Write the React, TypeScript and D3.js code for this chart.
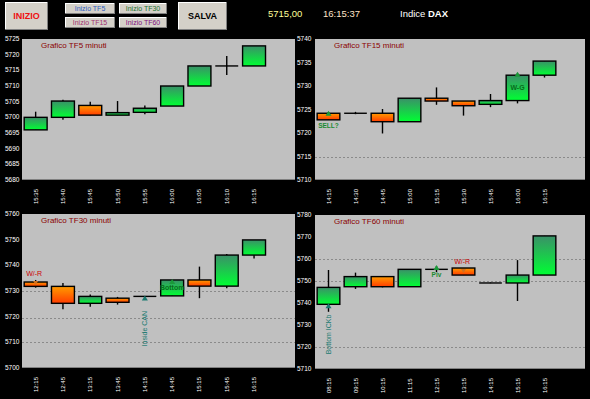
import React from "react";
import * as d3 from "d3";

// ---------- data ----------
const headerPrice = "5715,00";
const headerTime = "16:15:37";
const headerIndex = "Indice";
const headerIndexName = "DAX";

const tf5Times = ["15:35", "15:40", "15:45", "15:50", "15:55", "16:00", "16:05", "16:10", "16:15"];
const tf5Open = [5696.0, 5700.0, 5703.8, 5700.7, 5701.6, 5703.6, 5710.0, 5716.4, 5716.4];
const tf5High = [5701.8, 5705.6, 5705.0, 5705.2, 5703.8, 5710.0, 5716.4, 5719.6, 5722.8];
const tf5Low = [5696.0, 5699.2, 5700.7, 5700.7, 5701.0, 5703.6, 5710.0, 5713.5, 5716.4];
const tf5Close = [5700.0, 5705.2, 5700.7, 5701.5, 5702.9, 5710.0, 5716.4, 5716.4, 5722.8];
const tf5Ticks = [5725, 5720, 5715, 5710, 5705, 5700, 5695, 5690, 5685, 5680];
const tf5Levels: number[] = [];

const tf15Times = ["14:15", "14:30", "14:45", "15:00", "15:15", "15:30", "15:45", "16:00", "16:15"];
const tf15Open = [5724.2, 5724.2, 5724.2, 5722.4, 5727.4, 5726.8, 5726.1, 5726.9, 5732.3];
const tf15High = [5724.5, 5724.5, 5725.1, 5727.4, 5729.7, 5726.8, 5728.3, 5732.8, 5735.3];
const tf15Low = [5722.8, 5724.0, 5719.9, 5722.4, 5726.0, 5723.7, 5725.5, 5726.3, 5731.8];
const tf15Close = [5722.8, 5724.2, 5722.4, 5727.4, 5726.8, 5725.8, 5726.9, 5732.3, 5735.3];
const tf15Ticks = [5740, 5735, 5730, 5725, 5720, 5715, 5710];
const tf15Levels = [5715];

const tf30Times = ["12:15", "12:45", "13:15", "13:45", "14:15", "14:45", "15:15", "15:45", "16:15"];
const tf30Open = [5733.5, 5731.8, 5725.2, 5727.2, 5727.9, 5728.1, 5734.3, 5731.9, 5744.0];
const tf30High = [5734.3, 5733.1, 5728.6, 5727.7, 5728.0, 5734.3, 5739.5, 5744.4, 5749.9];
const tf30Low = [5731.3, 5722.9, 5723.9, 5724.7, 5727.8, 5728.1, 5727.2, 5731.1, 5742.7];
const tf30Close = [5731.8, 5725.2, 5727.9, 5725.6, 5727.9, 5734.3, 5731.9, 5744.0, 5749.9];
const tf30Ticks = [5760, 5750, 5740, 5730, 5720, 5710, 5700];
const tf30Levels = [5730, 5719.5, 5710];

const tf60Times = ["08:15", "09:15", "10:15", "11:15", "12:15", "13:15", "14:15", "15:15", "16:15"];
const tf60Open = [5739.4, 5747.4, 5752.0, 5747.4, 5755.3, 5755.9, 5749.1, 5749.1, 5752.7];
const tf60High = [5755.0, 5753.8, 5752.0, 5755.3, 5756.8, 5755.9, 5749.3, 5759.5, 5770.5];
const tf60Low = [5736.0, 5746.4, 5747.1, 5747.4, 5754.1, 5752.7, 5749.0, 5740.9, 5752.7];
const tf60Close = [5747.1, 5752.0, 5747.4, 5755.3, 5755.3, 5752.7, 5749.1, 5752.7, 5770.5];
const tf60Ticks = [5780, 5770, 5760, 5750, 5740, 5730, 5720, 5710];
const tf60Levels = [5760, 5750, 5720];

type Ann = { i: number; kind: "up" | "down"; color: string; text?: string; textColor?: string; pos: "top" | "bottom" | "inside" | "above" | "vertical" | "right" };
const tf5Notes: Ann[] = [];
const tf15Notes: Ann[] = [
  { i: 0, kind: "up", color: "#1a9a3a", text: "SELL?", textColor: "#1a8a30", pos: "bottom" },
  { i: 7, kind: "up", color: "#1a9a3a", text: "W-G", textColor: "#0a6a20", pos: "inside" },
];
const tf30Notes: Ann[] = [
  { i: 0, kind: "down", color: "#d07020", text: "W/-R", textColor: "#cc0000", pos: "above" },
  { i: 4, kind: "up", color: "#1a7a70", text: "Inside CAN", textColor: "#1a7a70", pos: "vertical" },
  { i: 5, kind: "up", color: "#1a9a3a", text: "Bottom", textColor: "#0a6a20", pos: "inside" },
];
const tf60Notes: Ann[] = [
  { i: 0, kind: "up", color: "#1a7a70", text: "Bottom ICKb", textColor: "#1a7a70", pos: "vertical" },
  { i: 4, kind: "up", color: "#1a9a3a", text: "Piv", textColor: "#1a8a30", pos: "bottom" },
  { i: 5, kind: "down", color: "#d07020", text: "W/-R", textColor: "#cc0000", pos: "above" },
];

// ---------- layout ----------
const panels = [
  { title: "Grafico TF5 minuti", times: tf5Times, o: tf5Open, h: tf5High, l: tf5Low, c: tf5Close, ticks: tf5Ticks, levels: tf5Levels, notes: tf5Notes, x0: 22, x1: 295, y0: 39, y1: 180, axisX: 5 },
  { title: "Grafico TF15 minuti", times: tf15Times, o: tf15Open, h: tf15High, l: tf15Low, c: tf15Close, ticks: tf15Ticks, levels: tf15Levels, notes: tf15Notes, x0: 315, x1: 585, y0: 39, y1: 180, axisX: 297 },
  { title: "Grafico TF30 minuti", times: tf30Times, o: tf30Open, h: tf30High, l: tf30Low, c: tf30Close, ticks: tf30Ticks, levels: tf30Levels, notes: tf30Notes, x0: 22, x1: 295, y0: 214, y1: 368, axisX: 5 },
  { title: "Grafico TF60 minuti", times: tf60Times, o: tf60Open, h: tf60High, l: tf60Low, c: tf60Close, ticks: tf60Ticks, levels: tf60Levels, notes: tf60Notes, x0: 315, x1: 585, y0: 215, y1: 369, axisX: 297 },
];

const FONT = "'Liberation Sans', Arial, sans-serif";

function Panel({ p, idx }: { p: (typeof panels)[number]; idx: number }) {
  const x = d3.scaleBand<number>().domain(d3.range(10)).range([p.x0, p.x1]).paddingInner(0.16).paddingOuter(0.08);
  const y = d3.scaleLinear().domain([p.ticks[p.ticks.length - 1], p.ticks[0]]).range([p.y1, p.y0]);
  const bw = x.bandwidth();
  return (
    <g>
      <rect x={p.x0} y={p.y0} width={p.x1 - p.x0} height={p.y1 - p.y0} fill="#c0c0c0" />
      <line x1={p.x0} x2={p.x1} y1={p.y1 - 0.5} y2={p.y1 - 0.5} stroke="#808080" strokeWidth={1} />
      {p.levels.map((v, k) => (
        <line key={k} x1={p.x0} x2={p.x1} y1={Math.round(y(v)) + 0.5} y2={Math.round(y(v)) + 0.5} stroke="#8a8a8a" strokeWidth={1} strokeDasharray="2,2" />
      ))}
      <text x={p.x0 + 19} y={p.y0 + 9} fontFamily={FONT} fontSize={8} fill="#8b0000">{p.title}</text>
      {p.ticks.map((t, k) => (
        <text key={k} x={p.axisX} y={y(t) + 2} fontFamily={FONT} fontSize={6.5} fill="#ffffff">{t}</text>
      ))}
      {p.times.map((t, i) => {
        const cx = (x(i) as number) + bw / 2;
        return (
          <text key={i} transform={`translate(${cx + 2},${p.y1 + 24}) rotate(-90)`} fontFamily={FONT} fontSize={6} fill="#ffffff">{t}</text>
        );
      })}
      {p.o.map((o, i) => {
        const c = p.c[i];
        const hi = p.h[i];
        const lo = p.l[i];
        const left = x(i) as number;
        const cx = left + bw / 2;
        const top = y(Math.max(o, c));
        const bot = y(Math.min(o, c));
        const up = c >= o;
        const bh = Math.max(bot - top, 0);
        return (
          <g key={i}>
            <line x1={cx} x2={cx} y1={y(hi)} y2={y(lo)} stroke="#000" strokeWidth={1.4} />
            {bh < 1.5 ? (
              <line x1={left} x2={left + bw} y1={top} y2={top} stroke="#000" strokeWidth={1.4} />
            ) : (
              <rect x={left} y={top} width={bw} height={bh} fill={`url(#${up ? "gUp" : "gDn"})`} stroke="#000" strokeWidth={1.4} />
            )}
          </g>
        );
      })}
      {p.notes.map((n, k) => {
        const left = x(n.i) as number;
        const cx = left + bw / 2;
        const o = p.o[n.i];
        const c = p.c[n.i];
        const top = y(Math.max(o, c, p.h[n.i]));
        const bodyTop = y(Math.max(o, c));
        const bodyBot = y(Math.min(o, c));
        const tri = n.pos === "vertical" ? bodyBot : top;
        const triPath = n.kind === "up"
          ? `M${cx - 3},${tri + 4} L${cx + 3},${tri + 4} L${cx},${tri - 1} Z`
          : `M${cx - 2.5},${tri + 1} L${cx + 2.5},${tri + 1} L${cx},${tri + 5} Z`;
        let label = null;
        if (n.text) {
          if (n.pos === "bottom") label = <text x={cx} y={bodyBot + 8} textAnchor="middle" fontFamily={FONT} fontSize={6.5} fontWeight="bold" fill={n.textColor}>{n.text}</text>;
          else if (n.pos === "inside") label = <text x={cx} y={(bodyTop + bodyBot) / 2 + 2.5} textAnchor="middle" fontFamily={FONT} fontSize={7} fontWeight="bold" fill={n.textColor}>{n.text}</text>;
          else if (n.pos === "above") label = <text x={left + 2} y={top - 4} fontFamily={FONT} fontSize={7} fill={n.textColor}>{n.text}</text>;
          else if (n.pos === "vertical") label = <text transform={`translate(${cx + 2.5},${bodyBot + 50}) rotate(-90)`} fontFamily={FONT} fontSize={7} fill={n.textColor}>{n.text}</text>;
        }
        return (
          <g key={k}>
            <path d={triPath} fill={n.color} />
            {label}
          </g>
        );
      })}
    </g>
  );
}

function Button({ x, y, w, h, label, color, size, bold }: { x: number; y: number; w: number; h: number; label: string; color: string; size: number; bold?: boolean }) {
  return (
    <g>
      <rect x={x} y={y} width={w} height={h} fill="#d4d0c8" />
      <line x1={x} x2={x + w} y1={y + 0.5} y2={y + 0.5} stroke="#ffffff" />
      <line x1={x + 0.5} x2={x + 0.5} y1={y} y2={y + h} stroke="#ffffff" />
      <line x1={x} x2={x + w} y1={y + h - 0.5} y2={y + h - 0.5} stroke="#808080" />
      <line x1={x + w - 0.5} x2={x + w - 0.5} y1={y} y2={y + h} stroke="#808080" />
      <text x={x + w / 2} y={y + h / 2 + size * 0.36} textAnchor="middle" fontFamily={FONT} fontSize={size} fontWeight={bold ? "bold" : "normal"} fill={color}>{label}</text>
    </g>
  );
}

export default function App() {
  return (
    <svg width={590} height={399} style={{ position: "absolute", left: 0, top: 0, background: "#000" }}>
      <defs>
        <linearGradient id="gUp" x1="0" y1="0" x2="0" y2="1">
          <stop offset="0%" stopColor="#3a9068" />
          <stop offset="100%" stopColor="#00ff33" />
        </linearGradient>
        <linearGradient id="gDn" x1="0" y1="0" x2="0" y2="1">
          <stop offset="0%" stopColor="#ff9c00" />
          <stop offset="100%" stopColor="#ff3c00" />
        </linearGradient>
      </defs>
      <rect x={0} y={0} width={590} height={399} fill="#000" />
      <Button x={5} y={2} w={43} h={28} label="INIZIO" color="#ee1111" size={9} bold />
      <Button x={65} y={3} w={50} h={11} label="Inizio TF5" color="#3060c0" size={7} />
      <Button x={65} y={17} w={50} h={11} label="Inizio TF15" color="#a03070" size={7} />
      <Button x={119} y={3} w={48} h={11} label="Inizio TF30" color="#207030" size={7} />
      <Button x={119} y={17} w={48} h={11} label="Inizio TF60" color="#801080" size={7} />
      <Button x={178} y={2} w={49} h={28} label="SALVA" color="#000000" size={9} bold />
      <text x={268} y={17} fontFamily={FONT} fontSize={9.5} fill="#ffff99">{headerPrice}</text>
      <text x={323} y={17} fontFamily={FONT} fontSize={9.5} fill="#ffe4c8">{headerTime}</text>
      <text x={400} y={17} fontFamily={FONT} fontSize={9.5} fill="#ffffff">{headerIndex} <tspan fontWeight="bold">{headerIndexName}</tspan></text>
      {panels.map((p, i) => (
        <Panel key={i} p={p} idx={i} />
      ))}
    </svg>
  );
}
